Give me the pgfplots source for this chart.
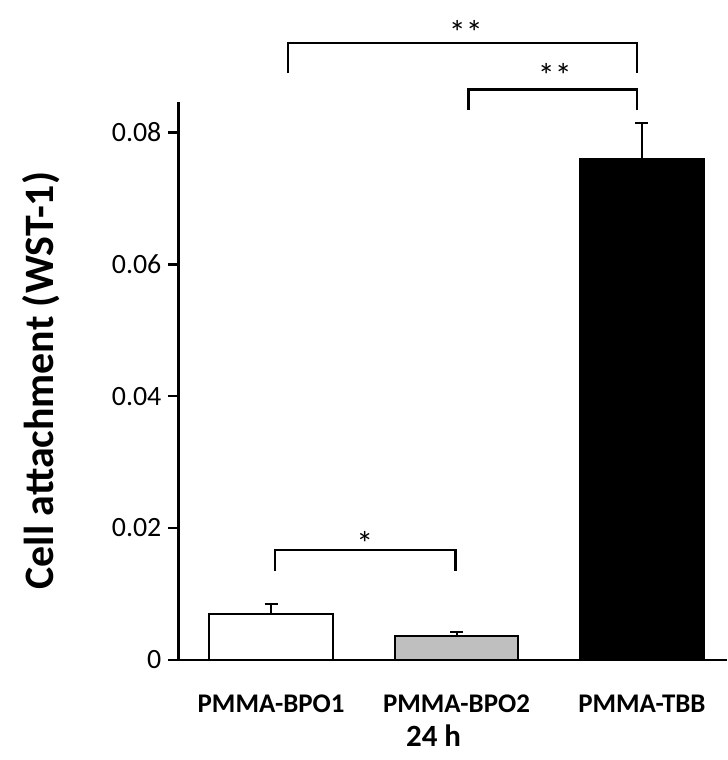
\documentclass[border=0pt]{standalone}
\usepackage{fontspec}
\setmainfont{Carlito}
\usepackage{pgfplots}
\pgfplotsset{compat=1.18}

\begin{document}
\begin{tikzpicture}
\begin{axis}[
  scale only axis, width=275pt, height=280pt,
  xmin=-0.5, xmax=2.457, ymin=0, ymax=0.0847,
  axis x line*=bottom, axis y line*=left,
  axis line style={line width=1.2pt},
  ybar, bar width=62pt, bar shift=0pt,
  clip=false,
  tick align=outside,
  major tick length=5pt, minor tick length=4.5pt,
  every tick/.style={line width=1.2pt, black},
  xtick={0,1,2},
  xticklabels={PMMA-BPO1,PMMA-BPO2,PMMA-TBB},
  x tick style={draw=none},
  minor xtick={-0.5,0.5,1.5},
  ytick={0,0.02,0.04,0.06,0.08},
  yticklabels={0,0.02,0.04,0.06,0.08},
  scaled y ticks=false,
  y tick label style={font=\fontsize{14}{16}\selectfont},
  x tick label style={font=\bfseries\fontsize{13.5}{16}\selectfont, yshift=-9pt},
  ylabel={Cell attachment (WST-1)},
  every axis y label/.style={at={(axis description cs:-0.251,0.5)}, anchor=center, rotate=90,
    font=\bfseries\fontsize{21}{24}\selectfont},
  every axis plot/.append style={draw=black, line width=1pt},
  error bars/error bar style={line width=1pt, black},
  error bars/error mark options={rotate=90, mark size=3.25pt, line width=1pt, black},
]
\addplot[fill=white, error bars/.cd, y dir=plus, y explicit]
  coordinates {(0,0.0070) +- (0,0.0015)};
\addplot[fill=gray!50, error bars/.cd, y dir=plus, y explicit]
  coordinates {(1,0.0036) +- (0,0.0006)};
\addplot[fill=black, error bars/.cd, y dir=plus, y explicit]
  coordinates {(2,0.0760) +- (0,0.0055)};

% page frame, same margins as the reference
\path (axis cs:-1.462,-0.0152) rectangle (axis cs:2.457,0.1001);

% x axis title
\node[inner sep=0pt, font=\bfseries\fontsize{15.5}{18}\selectfont]
  at (axis cs:0.876,-0.0115) {24 h};

% significance brackets
\draw[line width=1.2pt] (axis cs:0.02,0.01345) |- (axis cs:0.995,0.01663) -- (axis cs:0.995,0.01345);
\node[inner sep=0pt, font=\fontsize{17}{20}\selectfont] at (axis cs:0.505,0.0177) {*};
\draw[line width=1.2pt] (axis cs:0.09,0.0890) |- (axis cs:1.973,0.0936) -- (axis cs:1.973,0.0890);
\node[inner sep=0pt, font=\fontsize{17}{20}\selectfont] at (axis cs:1.05,0.0952) {**};
\draw[line width=1.2pt] (axis cs:1.065,0.0834) |- (axis cs:1.973,0.0865) -- (axis cs:1.973,0.0834);
\node[inner sep=0pt, font=\fontsize{17}{20}\selectfont] at (axis cs:1.53,0.0887) {**};
\end{axis}
\end{tikzpicture}
\end{document}
